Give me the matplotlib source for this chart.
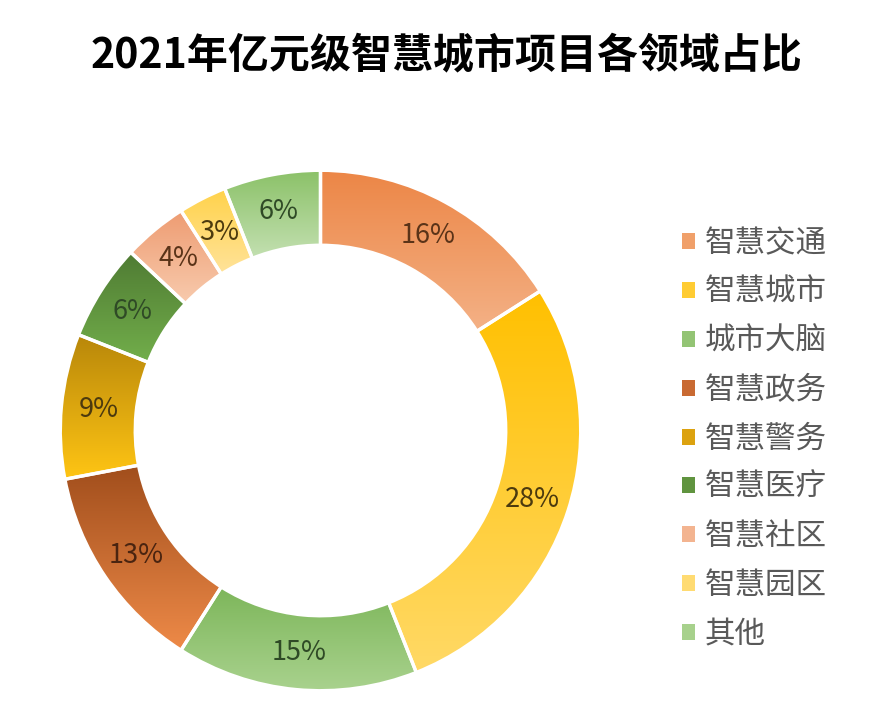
import numpy as np
import matplotlib
matplotlib.use("Agg")
import matplotlib.pyplot as plt
from matplotlib.colors import LinearSegmentedColormap
from matplotlib.patches import Patch

plt.rcParams['font.family'] = ['Noto Sans CJK SC', 'DejaVu Sans']

# data
fields = ["智慧交通", "智慧城市", "城市大脑", "智慧政务", "智慧警务",
          "智慧医疗", "智慧社区", "智慧园区", "其他"]
shares = [16, 28, 15, 13, 9, 6, 4, 3, 6]

# gradient colours (top, bottom) and label colours
top_cols = ["#EC8646", "#FFC000", "#7DB65A", "#A14E1C", "#B8870A",
            "#4F7B33", "#EE9C72", "#FFD24A", "#8BC168"]
bot_cols = ["#F4B186", "#FFD966", "#A9D28E", "#EE8A48", "#FFC514",
            "#72AE4B", "#F8CBAE", "#FFE39A", "#C3E0B1"]
mid_cols = ["#F0A06A", "#FFCC33", "#93C474", "#C96A32", "#DCA20F",
            "#60943F", "#F3B490", "#FFDB72", "#A7D18C"]
txt_cols = ["#5A3318", "#4C3A0E", "#2F4A26", "#4A2410", "#4C3A0E",
            "#2F4A26", "#5A3318", "#4C3A0E", "#2F4A26"]

fig = plt.figure(figsize=(8.75, 7.18), dpi=100)
ax = fig.add_axes([59 / 875, 26 / 718, 523 / 875, 523 / 718])

wedges, texts, autotexts = ax.pie(
    shares, startangle=90, counterclock=False, radius=1,
    autopct='%d%%', pctdistance=0.856,
    wedgeprops=dict(width=0.288, edgecolor='white', linewidth=2.4),
)

grad = np.linspace(0, 1, 256).reshape(-1, 1)
for i, w in enumerate(wedges):
    ext = w.get_path().get_extents(w.get_patch_transform())
    cmap = LinearSegmentedColormap.from_list("g%d" % i, [top_cols[i], bot_cols[i]])
    im = ax.imshow(grad, cmap=cmap, aspect='auto', origin='upper',
                   extent=[ext.x0, ext.x1, ext.y0, ext.y1], zorder=1)
    im.set_clip_path(w)
    w.set_facecolor('none')
    w.set_zorder(2)

for i, t in enumerate(autotexts):
    t.set_color(txt_cols[i])
    t.set_fontsize(19.5)
    t.set_zorder(3)

ax.set_xlim(-1.005, 1.005)
ax.set_ylim(-1.005, 1.005)
ax.set_aspect('equal')
ax.axis('off')

handles = [Patch(facecolor=c, edgecolor='none') for c in mid_cols]
fig.legend(handles, fields, loc='upper left', bbox_to_anchor=(682 / 875, 1 - 228 / 718),
           frameon=False, fontsize=22, labelcolor='#595959',
           handlelength=0.43, handleheight=0.43, handletextpad=0.3,
           labelspacing=0.585, borderpad=0, borderaxespad=0)

fig.text(447 / 875, 1 - 55 / 718, "2021年亿元级智慧城市项目各领域占比",
         ha='center', va='center', fontsize=29.5, fontweight='bold', color='black')

fig.savefig("out.png", dpi=100, facecolor='white')
